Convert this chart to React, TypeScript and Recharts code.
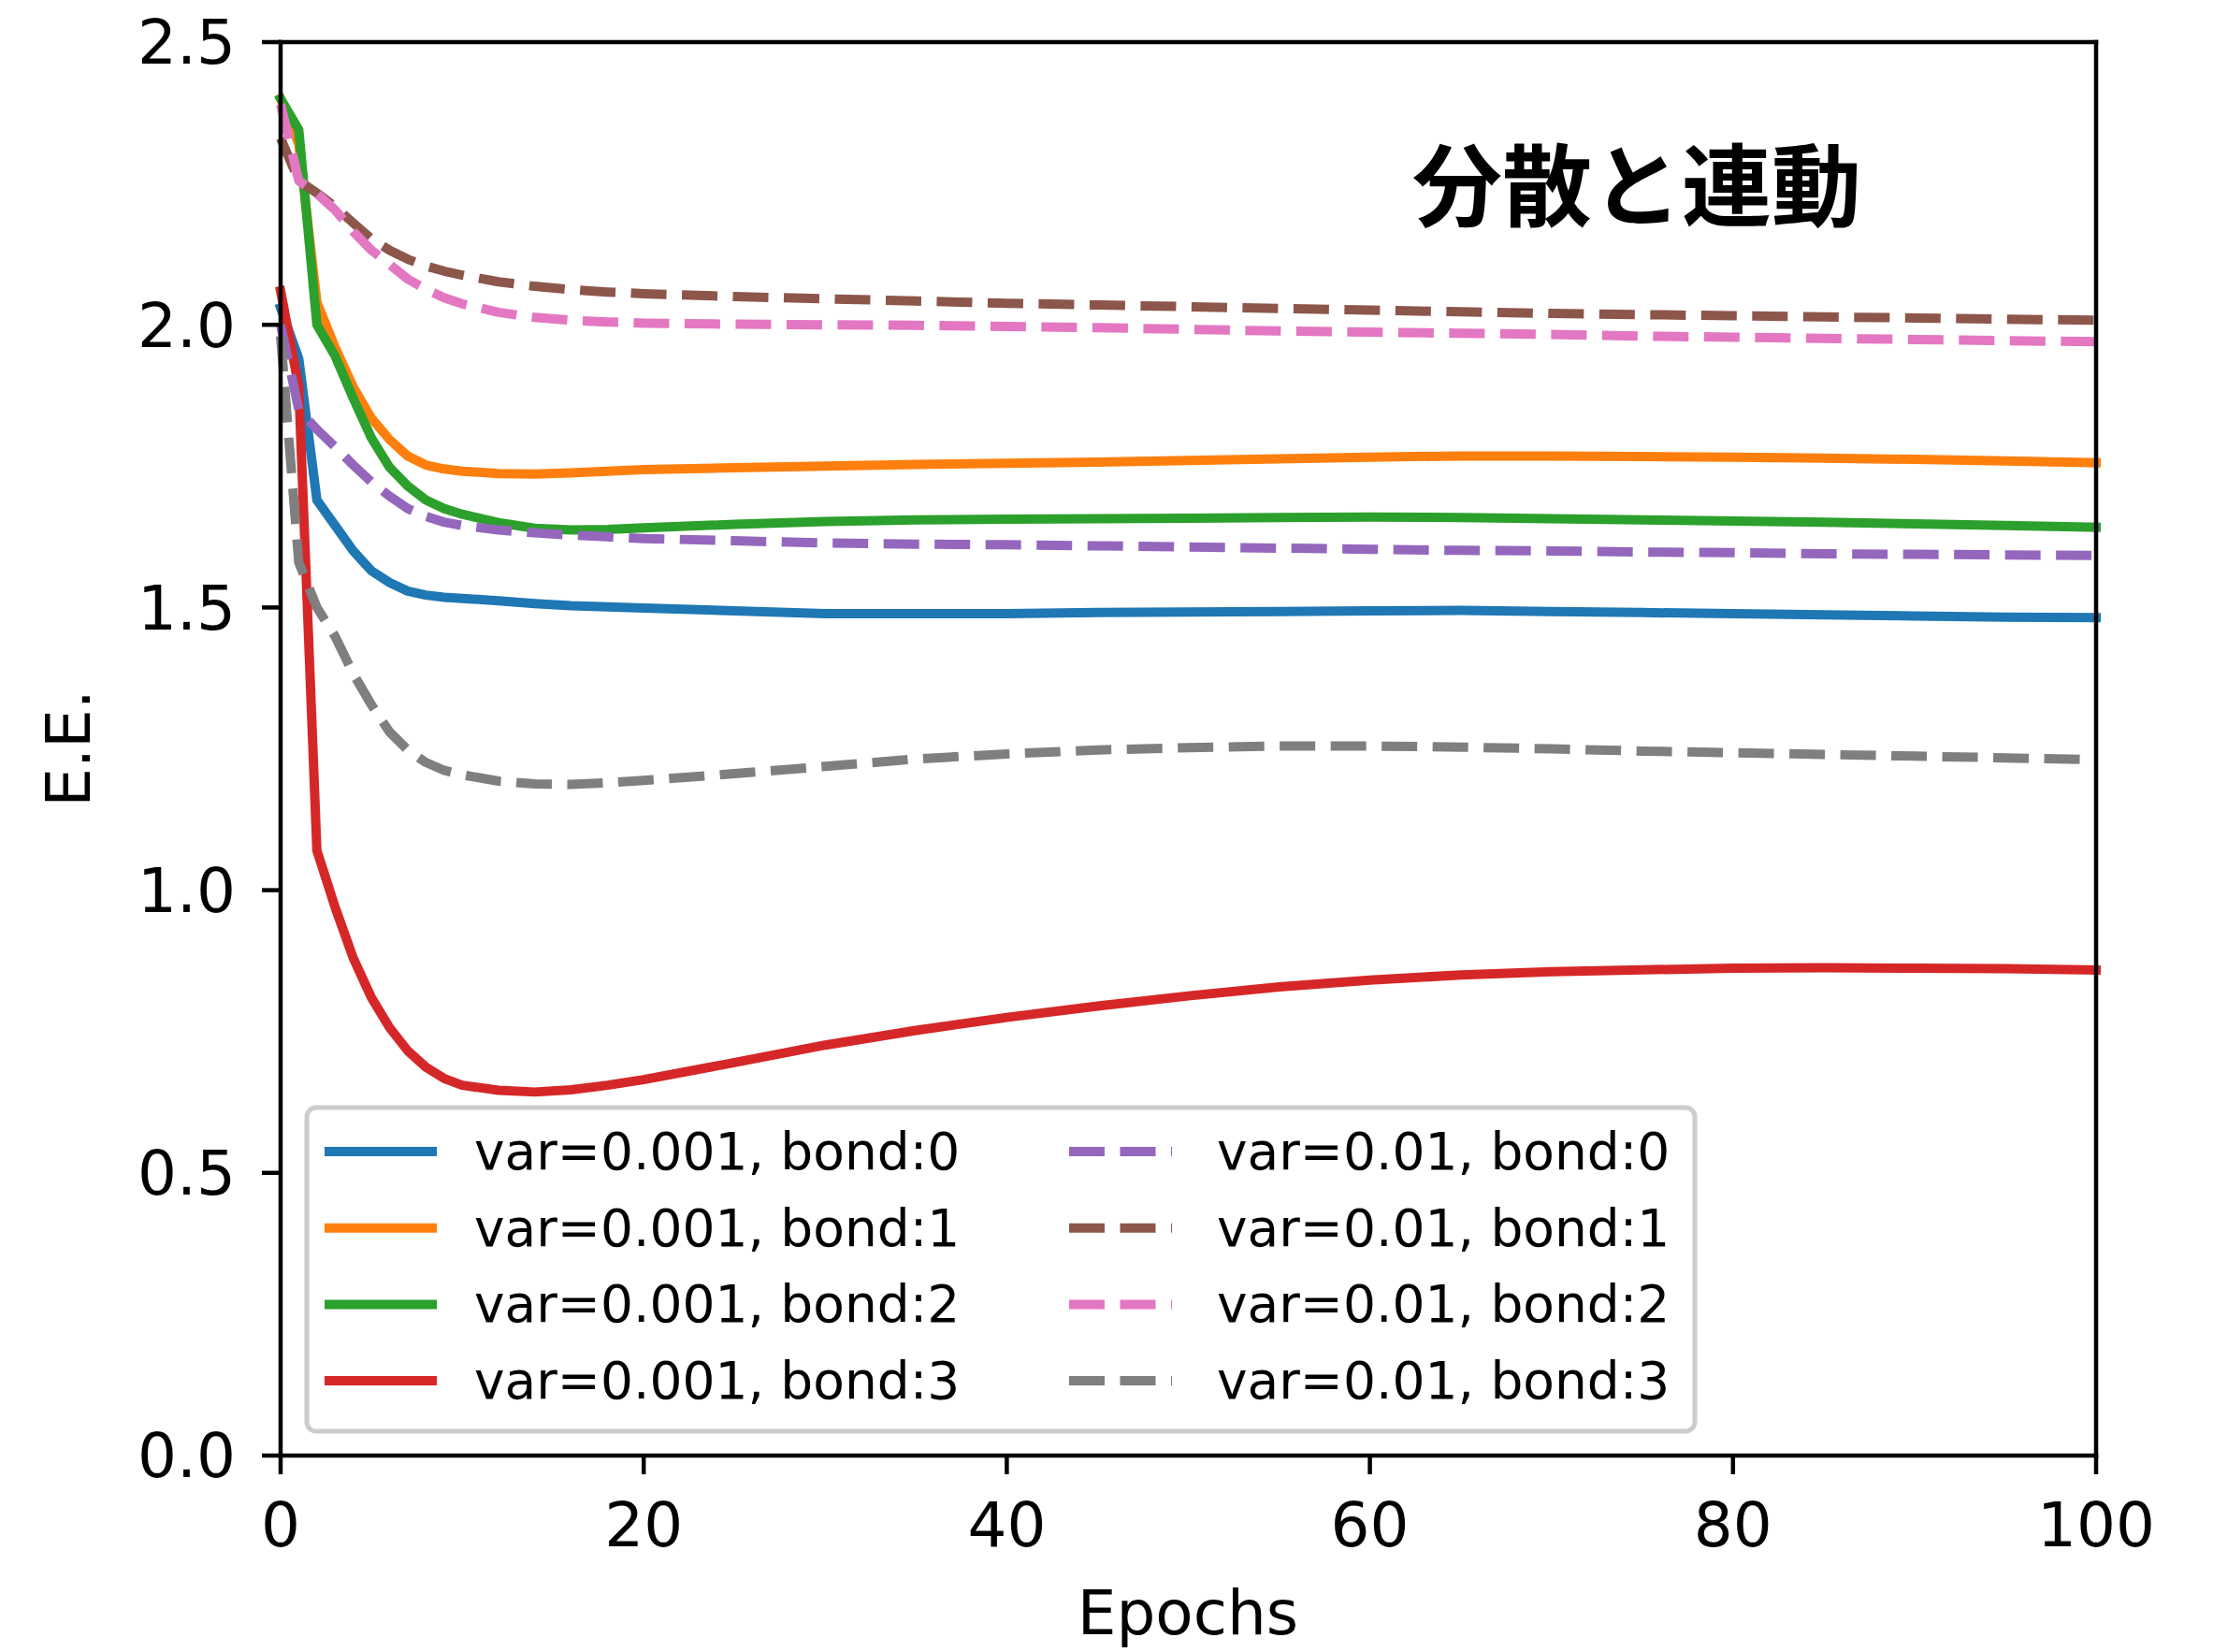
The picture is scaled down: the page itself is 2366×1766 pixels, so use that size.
import { LineChart, Line, XAxis, YAxis, ReferenceLine } from "recharts";

const epochs = [0, 1, 2, 3, 4, 5, 6, 7, 8, 9, 10, 12, 14, 16, 18, 20, 25, 30, 35, 40, 45, 50, 55, 60, 65, 70, 75, 80, 85, 90, 95, 100];

const lowBond0 = [2.03, 1.94, 1.69, 1.645, 1.6, 1.565, 1.544, 1.529, 1.522, 1.518, 1.516, 1.512, 1.507, 1.503, 1.501, 1.499, 1.494, 1.489, 1.489, 1.489, 1.491, 1.492, 1.493, 1.494, 1.495, 1.493, 1.491, 1.489, 1.487, 1.485, 1.483, 1.482];
const lowBond1 = [2.4, 2.32, 2.04, 1.96, 1.89, 1.835, 1.797, 1.768, 1.752, 1.745, 1.741, 1.737, 1.736, 1.738, 1.741, 1.744, 1.747, 1.75, 1.753, 1.755, 1.757, 1.76, 1.763, 1.766, 1.768, 1.768, 1.767, 1.766, 1.764, 1.762, 1.759, 1.756];
const lowBond2 = [2.4, 2.345, 2.0, 1.945, 1.87, 1.8, 1.748, 1.715, 1.69, 1.675, 1.665, 1.65, 1.64, 1.637, 1.638, 1.641, 1.647, 1.652, 1.655, 1.656, 1.657, 1.658, 1.659, 1.66, 1.659, 1.657, 1.655, 1.653, 1.651, 1.648, 1.645, 1.642];
const lowBond3 = [2.06, 1.89, 1.07, 0.97, 0.88, 0.81, 0.757, 0.716, 0.687, 0.667, 0.655, 0.646, 0.643, 0.647, 0.655, 0.665, 0.695, 0.726, 0.752, 0.775, 0.795, 0.813, 0.829, 0.841, 0.85, 0.856, 0.859, 0.862, 0.863, 0.862, 0.861, 0.859];
const highBond0 = [2.0, 1.85, 1.815, 1.784, 1.752, 1.722, 1.697, 1.675, 1.661, 1.651, 1.645, 1.637, 1.632, 1.628, 1.625, 1.622, 1.618, 1.614, 1.612, 1.611, 1.609, 1.607, 1.605, 1.603, 1.601, 1.6, 1.598, 1.597, 1.595, 1.594, 1.593, 1.592];
const highBond1 = [2.33, 2.255, 2.233, 2.209, 2.18, 2.152, 2.132, 2.116, 2.104, 2.095, 2.088, 2.076, 2.068, 2.062, 2.058, 2.055, 2.05, 2.046, 2.042, 2.038, 2.035, 2.032, 2.029, 2.026, 2.023, 2.02, 2.018, 2.016, 2.014, 2.012, 2.01, 2.008];
const highBond2 = [2.39, 2.255, 2.232, 2.203, 2.165, 2.132, 2.107, 2.081, 2.063, 2.048, 2.037, 2.022, 2.013, 2.008, 2.005, 2.003, 2.001, 2.0, 1.999, 1.997, 1.995, 1.992, 1.989, 1.987, 1.985, 1.983, 1.98, 1.978, 1.976, 1.974, 1.972, 1.97];
const highBond3 = [1.98, 1.58, 1.5, 1.449, 1.383, 1.328, 1.28, 1.248, 1.226, 1.212, 1.204, 1.193, 1.188, 1.187, 1.19, 1.194, 1.206, 1.219, 1.232, 1.241, 1.248, 1.252, 1.255, 1.255, 1.253, 1.25, 1.246, 1.243, 1.24, 1.237, 1.234, 1.231];

const xTicks = [0, 20, 40, 60, 80, 100];
const yTicks = [0, 0.5, 1.0, 1.5, 2.0, 2.5];

const series = [
  { key: "s0", name: "var=0.001, bond:0", color: "#1f77b4", dashed: false, values: lowBond0 },
  { key: "s1", name: "var=0.001, bond:1", color: "#ff7f0e", dashed: false, values: lowBond1 },
  { key: "s2", name: "var=0.001, bond:2", color: "#2ca02c", dashed: false, values: lowBond2 },
  { key: "s3", name: "var=0.001, bond:3", color: "#d62728", dashed: false, values: lowBond3 },
  { key: "s4", name: "var=0.01, bond:0", color: "#9467bd", dashed: true, values: highBond0 },
  { key: "s5", name: "var=0.01, bond:1", color: "#8c564b", dashed: true, values: highBond1 },
  { key: "s6", name: "var=0.01, bond:2", color: "#e377c2", dashed: true, values: highBond2 },
  { key: "s7", name: "var=0.01, bond:3", color: "#7f7f7f", dashed: true, values: highBond3 },
];

const rows = epochs.map((epoch, i) => {
  const row: Record<string, number> = { epoch };
  series.forEach((s) => (row[s.key] = s.values[i]));
  return row;
});

const DASH = "38 16.5";
const FONT = "'DejaVu Sans', sans-serif";
const SPINE = { stroke: "#000", strokeWidth: 4.5, strokeLinecap: "square" as const };

function ChartLegend() {
  // 2 columns x 4 rows, like matplotlib ncol=2
  return (
    <svg
      width={1490}
      height={352}
      style={{ position: "absolute", left: 325, top: 1181 }}
    >
      <rect x={3} y={3} width={1484} height={346} rx={10} fill="#fff" stroke="#cccccc" strokeWidth={5} />
      {series.map((s, i) => {
        const col = Math.floor(i / 4);
        const row = i % 4;
        const cy = 50 + row * 81.7;
        const hx = col === 0 ? 27 : 818;
        return (
          <g key={s.key}>
            <line
              x1={hx}
              x2={hx + 110}
              y1={cy}
              y2={cy}
              stroke={s.color}
              strokeWidth={10}
              strokeDasharray={s.dashed ? DASH : undefined}
              strokeLinecap={s.dashed ? "butt" : "square"}
            />
            <text x={col === 0 ? 182 : 976} y={cy} dominantBaseline="central" fontSize={55} fontFamily={FONT} fill="#000">
              {s.name}
            </text>
          </g>
        );
      })}
    </svg>
  );
}

export default function App() {
  return (
    <div style={{ position: "absolute", left: 0, top: 0, width: 2366, height: 1766, background: "#fff" }}>
      <LineChart width={2366} height={1766} data={rows} margin={{ top: 45, right: 125, bottom: 0, left: 0 }}>
        <XAxis
          dataKey="epoch"
          type="number"
          domain={[0, 100]}
          ticks={xTicks}
          height={210}
          tickSize={20}
          tickMargin={30}
          stroke="#000"
          strokeWidth={4.5}
          axisLine={SPINE}
          tickLine={{ stroke: "#000", strokeWidth: 4.5 }}
          tick={{ fill: "#000", fontSize: 66, fontFamily: FONT }}
          label={{
            content: () => (
              <text x={1270} y={1747} textAnchor="middle" fontSize={66} fontFamily={FONT} fill="#000">
                Epochs
              </text>
            ),
          }}
        />
        <YAxis
          type="number"
          domain={[0, 2.5]}
          ticks={yTicks}
          width={300}
          tickSize={20}
          tickMargin={28}
          stroke="#000"
          strokeWidth={4.5}
          tickFormatter={(v: number) => v.toFixed(1)}
          axisLine={SPINE}
          tickLine={{ stroke: "#000", strokeWidth: 4.5 }}
          tick={{ fill: "#000", fontSize: 66, fontFamily: FONT }}
          label={{
            content: () => (
              <text
                x={73}
                y={800}
                transform="rotate(-90 73 800)"
                textAnchor="middle"
                dominantBaseline="central"
                fontSize={66}
                fontFamily={FONT}
                fill="#000"
              >
                E.E.
              </text>
            ),
          }}
        />
        {series.map((s) => (
          <Line
            key={s.key}
            dataKey={s.key}
            name={s.name}
            type="linear"
            stroke={s.color}
            strokeWidth={10}
            strokeDasharray={s.dashed ? DASH : undefined}
            strokeLinecap={s.dashed ? "butt" : "square"}
            strokeLinejoin="round"
            dot={false}
            activeDot={false}
            isAnimationActive={false}
          />
        ))}
        {/* top and right spines */}
        <ReferenceLine y={2.5} {...SPINE} />
        <ReferenceLine x={100} {...SPINE} />
      </LineChart>
      <div
        style={{
          position: "absolute",
          left: 1510,
          top: 133,
          fontFamily: "'Noto Sans CJK JP', sans-serif",
          fontWeight: 700,
          fontSize: 96,
          lineHeight: "120px",
          color: "#000",
          whiteSpace: "nowrap",
        }}
      >
        分散と連動
      </div>
      <ChartLegend />
    </div>
  );
}
